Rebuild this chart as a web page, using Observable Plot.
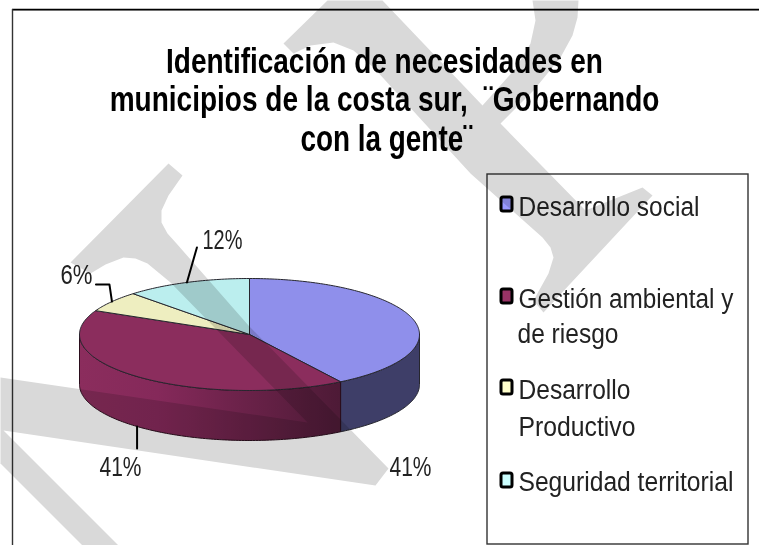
<!DOCTYPE html>
<html lang="es">
<head>
<meta charset="utf-8">
<script src="https://cdn.jsdelivr.net/npm/d3@7"></script>
<script src="https://cdn.jsdelivr.net/npm/@observablehq/plot@0.6"></script>
<style>
html,body{margin:0;padding:0;background:#fff}
svg{display:block;filter:blur(.45px)}
</style>
</head>
<body>
<div id="chart"></div>
<script>
// ---- chart values ----
const categories = ["Desarrollo social", "Gestión ambiental y de riesgo", "Desarrollo Productivo", "Seguridad territorial"];
const values = [41, 41, 6, 12];
const topColors = ["#8f8feb", "#8b2d5d", "#eeeec0", "#bbeeee"];
const swatchColors = ["#9999ff", "#993366", "#ffffcc", "#ccffff"];

const titleLines = [
  {text: "Identificación de necesidades en", x: 384, y: 72, w: 437},
  {text: "municipios de la costa sur,  ¨Gobernando", x: 384, y: 110, w: 550},
  {text: "con la gente¨", x: 386, y: 150, w: 172}
];
const legendLines = [
  {text: "Desarrollo social", x: 518, y: 215, w: 181},
  {text: "Gestión ambiental y", x: 518, y: 307, w: 215},
  {text: "de riesgo", x: 517, y: 342, w: 101},
  {text: "Desarrollo", x: 518, y: 398, w: 112},
  {text: "Productivo", x: 518, y: 435, w: 117},
  {text: "Seguridad territorial", x: 518, y: 490, w: 215}
];
const swatchCentres = [204, 296, 387, 480];
const percentLabels = [
  {text: "41%", x: 389, y: 475, w: 42},
  {text: "41%", x: 99, y: 475, w: 42},
  {text: "6%", x: 60, y: 283, w: 32},
  {text: "12%", x: 202, y: 248, w: 40}
];

// ---- pie geometry (scale space is the page's pixel grid) ----
const pie = {cx: 249, cy: 334, rx: 170, ry: 56, depth: 50};
const total = d3.sum(values);
let running = 0;
const slices = values.map((v, i) => {
  const a0 = running / total * 2 * Math.PI;
  running += v;
  return {i, a0, a1: running / total * 2 * Math.PI};
});
const rim = (a, dz = 0) => ({x: pie.cx + pie.rx * Math.sin(a), y: pie.cy - pie.ry * Math.cos(a) + dz});
const arc = (a0, a1, dz = 0) => {
  const n = Math.max(2, Math.ceil((a1 - a0) * 60));
  return d3.range(n + 1).map(k => rim(a0 + (a1 - a0) * k / n, dz));
};
const wedge = s => [{x: pie.cx, y: pie.cy}, ...arc(s.a0, s.a1), {x: pie.cx, y: pie.cy}];
const wall = (a0, a1) => {
  const pts = [...arc(a0, a1), ...arc(a0, a1, pie.depth).reverse()];
  return [...pts, pts[0]];
};
const mid = s => (s.a0 + s.a1) / 2;

// Front wall only exists on the lower half of the ellipse
const wallBlue = wall(Math.PI / 2, slices[0].a1);
const wallMaroon = wall(slices[1].a0, 1.5 * Math.PI);

// Leader lines run from each slice's mid-rim outwards
const leaders = [
  {start: rim(mid(slices[1]), pie.depth), steps: [[0, 22]]},
  {start: rim(mid(slices[2])), steps: [[-2.5, -17], [-16, -17]]},
  {start: rim(mid(slices[3])), steps: [[10, -35]]}
].map((l, id) => [l.start, ...l.steps.map(([dx, dy]) => ({x: l.start.x + dx, y: l.start.y + dy}))].map(p => ({...p, id})));

// ---- diagonal grey watermark ----
const watermark = [
  [[168,163],[70,262],[90,273],[105,264],[123,257],[135,258],[147,263],[170,282],[307,422],[0,377],[0,428],[3,430],[375,485],[388,468],[248,325],[176,243],[167,233],[161,222],[161,210],[168,195],[182,175]],
  [[3,430],[118,545],[82,545],[0,463],[0,428]],
  [[327,0],[283,43],[293,53],[310,45],[333,42],[353,50],[373,67],[470,173],[542,237],[550,247],[553,257],[548,273],[533,300],[543,312],[652,195],[642,187],[585,210],[500,123],[533,90],[560,57],[572,35],[577,17],[578,0],[532,0],[535,20],[530,43],[515,68],[482,105],[382,0]]
].map((poly, id) => poly.map(([x, y]) => ({x, y, id})));

const pieOutline = "#26262e";
const textFont = "'Liberation Sans', Arial, sans-serif";

const plot = Plot.plot({
  width: 759, height: 545,
  margin: 0,
  x: {domain: [0, 759], range: [0, 759], axis: null},
  y: {domain: [0, 545], range: [0, 545], axis: null},
  marks: [
    // frame
    Plot.ruleY([10], {x1: 12, x2: 759, stroke: "#999", strokeWidth: 1}),
    Plot.ruleY([9], {x1: 12, x2: 759, stroke: "#000", strokeWidth: 1.6}),
    Plot.ruleX([12], {y1: 9, y2: 545, stroke: "#333", strokeWidth: 1.4}),
    // pie walls
    Plot.line(wallBlue, {x: "x", y: "y", fill: "#3e3e68", stroke: pieOutline, strokeWidth: 1}),
    Plot.line(wallMaroon, {x: "x", y: "y", fill: "url(#maroonWall)", stroke: "#2a0d1c", strokeWidth: 1}),
    // pie top
    ...slices.map(s => Plot.line(wedge(s), {x: "x", y: "y", fill: topColors[s.i], stroke: pieOutline, strokeWidth: 1})),
    // leaders
    ...leaders.map(l => Plot.line(l, {x: "x", y: "y", stroke: "#000", strokeWidth: 2})),
    // legend box
    Plot.rect([0], {x1: 487, x2: 748, y1: 174, y2: 544, fill: "none", stroke: "#333", strokeWidth: 1.4}),
    Plot.rect(categories.map((c, i) => ({c, y: swatchCentres[i], fill: swatchColors[i]})), {
      x1: 501, x2: 512, y1: d => d.y - 7, y2: d => d.y + 7,
      fill: "fill", stroke: "#000", strokeWidth: 3, rx: 2
    }),
    // text
    Plot.text(titleLines, {x: "x", y: "y", text: "text", textAnchor: "middle", lineAnchor: "bottom", fontFamily: textFont, fontWeight: "bold", fontSize: 36, fill: "#000"}),
    Plot.text(legendLines, {x: "x", y: "y", text: "text", textAnchor: "start", lineAnchor: "bottom", fontFamily: textFont, fontSize: 28, fill: "#222"}),
    Plot.text(percentLabels, {x: "x", y: "y", text: "text", textAnchor: "start", lineAnchor: "bottom", fontFamily: textFont, fontSize: 28, fill: "#222"}),
    // watermark, multiplied over everything
    ...watermark.map(w => Plot.line(w, {x: "x", y: "y", fill: "#d9d9d9", stroke: "none", mixBlendMode: "multiply"}))
  ]
});

// gradient for the shaded wall
const svgSel = d3.select(plot);
const grad = svgSel.insert("defs", ":first-child").append("linearGradient").attr("id", "maroonWall");
[[0, "#8b2d5d"], [0.3, "#85295a"], [1, "#4d1a36"]].forEach(([o, c]) =>
  grad.append("stop").attr("offset", o).attr("stop-color", c));

document.getElementById("chart").appendChild(plot);

// squeeze the text horizontally to the narrow widths of the picture
const rows = [...titleLines, ...legendLines, ...percentLabels];
svgSel.selectAll("text").each(function () {
  const row = rows.find(r => r.text === this.textContent);
  if (!row) return;
  const sx = row.w / this.getComputedTextLength();
  const t = this.getAttribute("transform") || "";
  this.setAttribute("transform", `${t} scale(${sx.toFixed(4)},1)`);
});
</script>
</body>
</html>
